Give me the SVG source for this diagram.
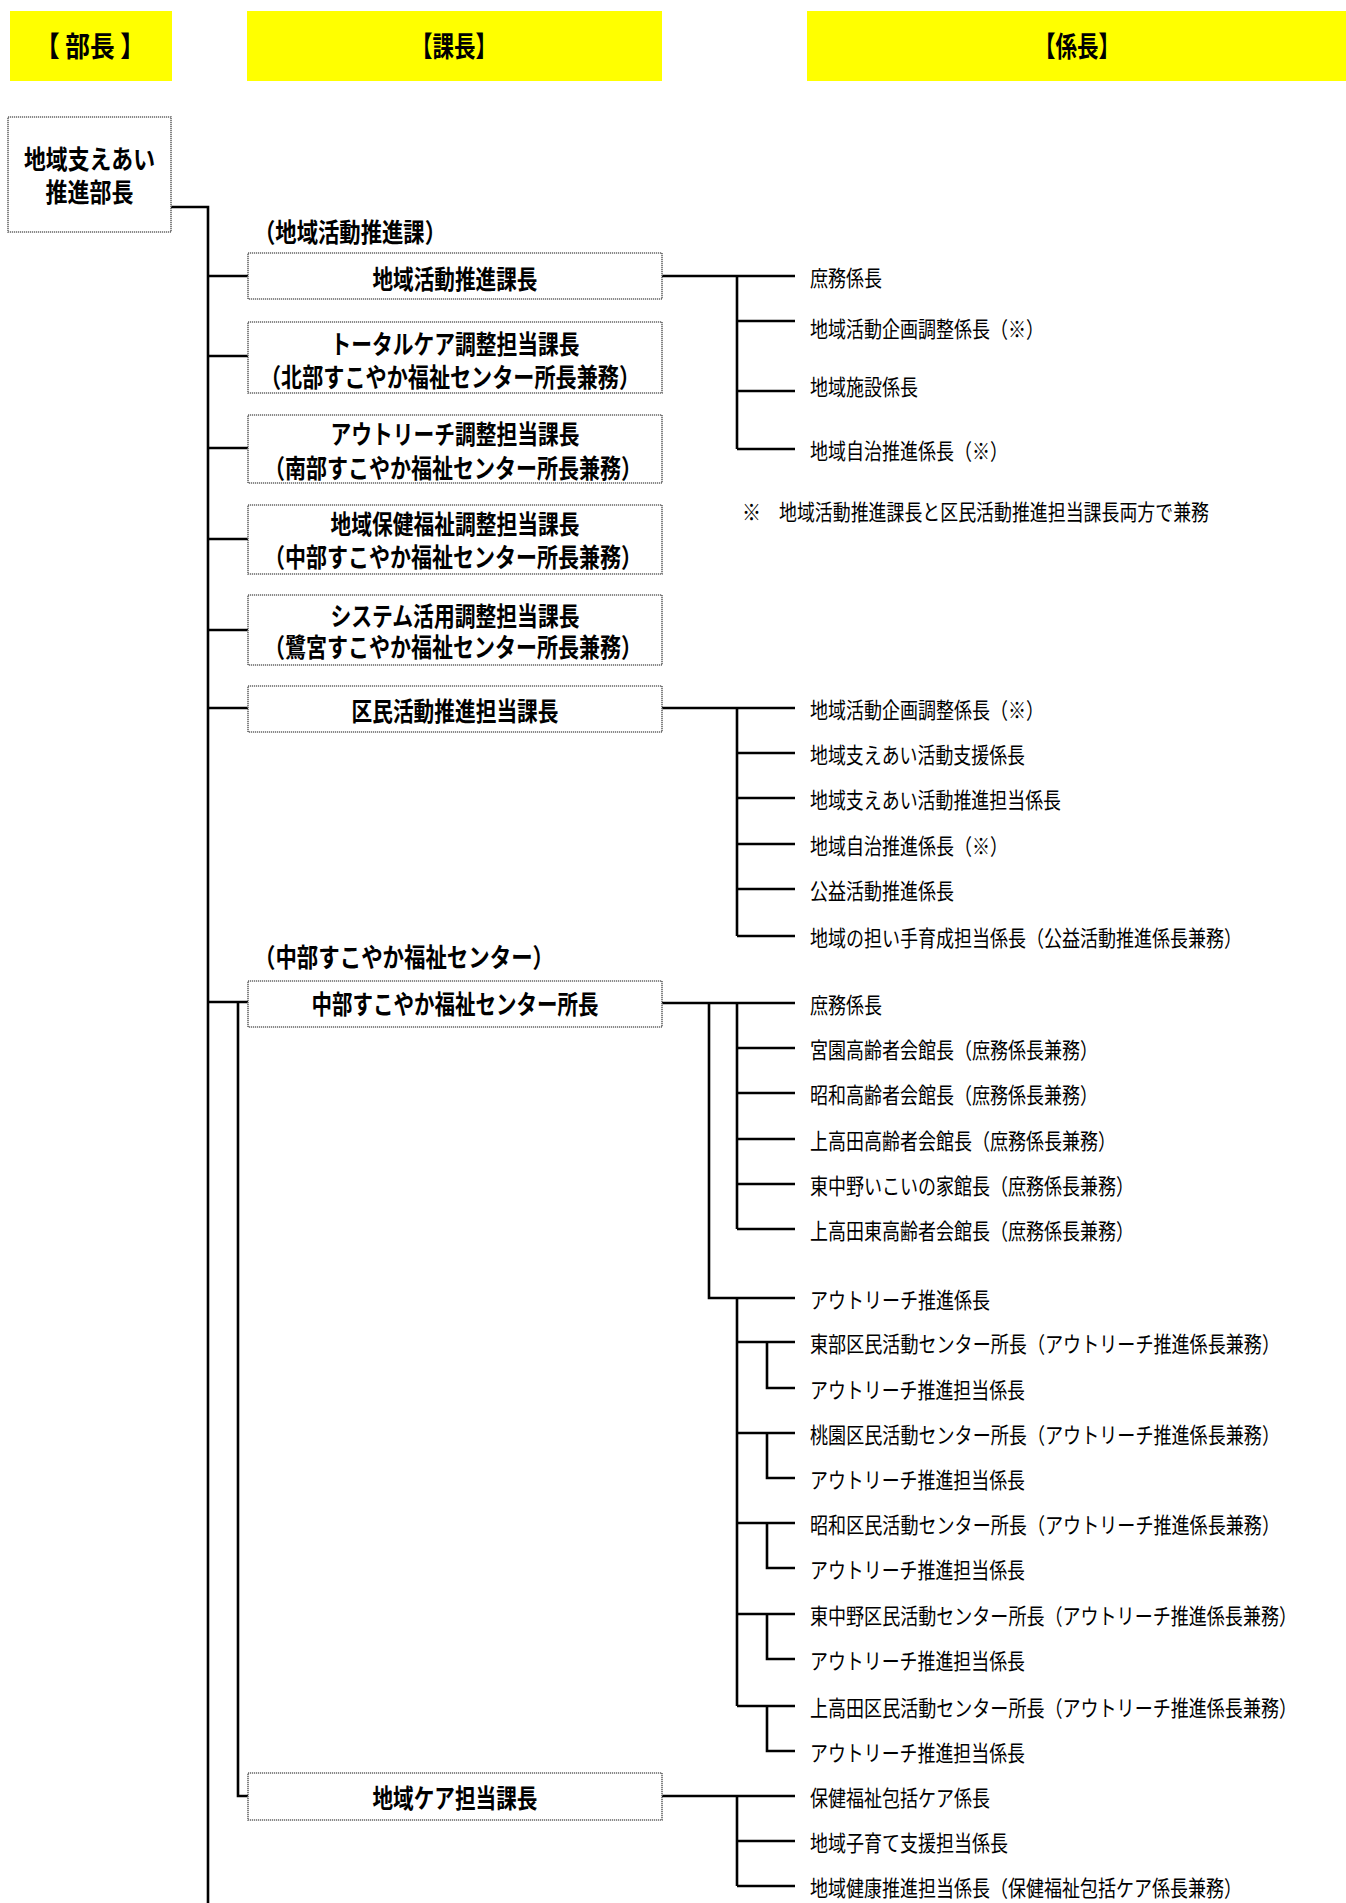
<svg xmlns="http://www.w3.org/2000/svg" width="1346" height="1903" viewBox="0 0 1346 1903">
<style>
.hdr{fill:#ffff00}
.box{fill:#fff;stroke:#666;stroke-width:1.6;stroke-dasharray:1.2 0.8}
.b{font-family:"Noto Sans CJK JP","Noto Sans CJK SC",sans-serif;font-weight:bold;font-size:26px;fill:#000}
.h{font-family:"Noto Sans CJK JP","Noto Sans CJK SC",sans-serif;font-weight:bold;font-size:28px;fill:#000}
.r{font-family:"Noto Sans CJK JP","Noto Sans CJK SC",sans-serif;font-size:22px;fill:#000}
.c{text-anchor:middle}
.ln{fill:none;stroke:#000;stroke-width:2.6}
</style>
<rect width="1346" height="1903" fill="#fff"/>
<g id="headers">
<rect class="hdr" x="10" y="11" width="162" height="70"/>
<rect class="hdr" x="247" y="11" width="415" height="70"/>
<rect class="hdr" x="807" y="11" width="539" height="70"/>
<text class="h c" x="90" y="57" textLength="110" lengthAdjust="spacingAndGlyphs">【 部長 】</text>
<text class="h c" x="454" y="57" textLength="86" lengthAdjust="spacingAndGlyphs">【課長】</text>
<text class="h c" x="1077" y="57" textLength="86" lengthAdjust="spacingAndGlyphs">【係長】</text>
</g>
<g id="connectors">
<path class="ln" d="M171 207H208V1903"/>
<path class="ln" d="M208 276H248M208 356H248M208 448H248M208 539H248M208 630H248M208 708H248M208 1002H248"/>
<path class="ln" d="M238 1002V1796H248"/>
<path class="ln" d="M662 276H795M737 276V449M737 321H795M737 391H795M737 449H795"/>
<path class="ln" d="M662 708H795M737 708V936M737 753H795M737 798H795M737 844H795M737 889H795M737 936H795"/>
<path class="ln" d="M662 1003H795M737 1003V1229M737 1048H795M737 1093H795M737 1139H795M737 1184H795M737 1229H795"/>
<path class="ln" d="M709 1003V1298H795M737 1298V1706"/>
<path class="ln" d="M737 1342H795M767 1342V1388H795M737 1433H795M767 1433V1478H795M737 1523H795M767 1523V1568H795M737 1614H795M767 1614V1659H795M737 1706H795M767 1706V1751H795"/>
<path class="ln" d="M662 1796H795M737 1796V1886M737 1841H795M737 1886H795"/>
</g>
<g id="bucho">
<rect class="box" x="8" y="117" width="163" height="115"/>
<text class="b c" x="89.5" y="169" textLength="131" lengthAdjust="spacingAndGlyphs">地域支えあい</text>
<text class="b c" x="89.5" y="202" textLength="88" lengthAdjust="spacingAndGlyphs">推進部長</text>
</g>
<g id="label-ka">
<text class="b" x="254" y="242" textLength="192" lengthAdjust="spacingAndGlyphs">（地域活動推進課）</text>
</g>
<g id="kacho1">
<rect class="box" x="248" y="253" width="414" height="46"/>
<text class="b c" x="455" y="288.5" textLength="165" lengthAdjust="spacingAndGlyphs">地域活動推進課長</text>
</g>
<g id="kacho2">
<rect class="box" x="248" y="322" width="414" height="71"/>
<text class="b c" x="455" y="353.5" textLength="249" lengthAdjust="spacingAndGlyphs">トータルケア調整担当課長</text>
<text class="b c" x="450" y="386.5" textLength="380" lengthAdjust="spacingAndGlyphs">（北部すこやか福祉センター所長兼務）</text>
</g>
<g id="kacho3">
<rect class="box" x="248" y="415" width="414" height="68"/>
<text class="b c" x="455" y="443.5" textLength="249" lengthAdjust="spacingAndGlyphs">アウトリーチ調整担当課長</text>
<text class="b c" x="453" y="477.5" textLength="378" lengthAdjust="spacingAndGlyphs">（南部すこやか福祉センター所長兼務）</text>
</g>
<g id="kacho4">
<rect class="box" x="248" y="505" width="414" height="69"/>
<text class="b c" x="455" y="533.5" textLength="249" lengthAdjust="spacingAndGlyphs">地域保健福祉調整担当課長</text>
<text class="b c" x="453" y="566.5" textLength="378" lengthAdjust="spacingAndGlyphs">（中部すこやか福祉センター所長兼務）</text>
</g>
<g id="kacho5">
<rect class="box" x="248" y="595" width="414" height="70"/>
<text class="b c" x="455" y="625.5" textLength="249" lengthAdjust="spacingAndGlyphs">システム活用調整担当課長</text>
<text class="b c" x="453" y="656.5" textLength="378" lengthAdjust="spacingAndGlyphs">（鷺宮すこやか福祉センター所長兼務）</text>
</g>
<g id="kacho6">
<rect class="box" x="248" y="686" width="414" height="46"/>
<text class="b c" x="455" y="720.5" textLength="207" lengthAdjust="spacingAndGlyphs">区民活動推進担当課長</text>
</g>
<g id="label-center">
<text class="b" x="254" y="967" textLength="300" lengthAdjust="spacingAndGlyphs">（中部すこやか福祉センター）</text>
</g>
<g id="shocho">
<rect class="box" x="248" y="981" width="414" height="46"/>
<text class="b c" x="455" y="1014" textLength="287" lengthAdjust="spacingAndGlyphs">中部すこやか福祉センター所長</text>
</g>
<g id="kacho-care">
<rect class="box" x="248" y="1773" width="414" height="47"/>
<text class="b c" x="455" y="1807.5" textLength="165" lengthAdjust="spacingAndGlyphs">地域ケア担当課長</text>
</g>
<g id="kakaricho-1">
<text class="r" x="810" y="286" textLength="72" lengthAdjust="spacingAndGlyphs">庶務係長</text>
<text class="r" x="810" y="337" textLength="234" lengthAdjust="spacingAndGlyphs">地域活動企画調整係長（※）</text>
<text class="r" x="810" y="395" textLength="108" lengthAdjust="spacingAndGlyphs">地域施設係長</text>
<text class="r" x="810" y="459" textLength="198" lengthAdjust="spacingAndGlyphs">地域自治推進係長（※）</text>
</g>
<g id="note">
<text class="r" x="742" y="520" textLength="19" lengthAdjust="spacingAndGlyphs">※</text>
<text class="r" x="779" y="520" textLength="430" lengthAdjust="spacingAndGlyphs">地域活動推進課長と区民活動推進担当課長両方で兼務</text>
</g>
<g id="kakaricho-2">
<text class="r" x="810" y="718" textLength="234" lengthAdjust="spacingAndGlyphs">地域活動企画調整係長（※）</text>
<text class="r" x="810" y="763" textLength="215" lengthAdjust="spacingAndGlyphs">地域支えあい活動支援係長</text>
<text class="r" x="810" y="808" textLength="251" lengthAdjust="spacingAndGlyphs">地域支えあい活動推進担当係長</text>
<text class="r" x="810" y="854" textLength="198" lengthAdjust="spacingAndGlyphs">地域自治推進係長（※）</text>
<text class="r" x="810" y="899" textLength="144" lengthAdjust="spacingAndGlyphs">公益活動推進係長</text>
<text class="r" x="810" y="946" textLength="432" lengthAdjust="spacingAndGlyphs">地域の担い手育成担当係長（公益活動推進係長兼務）</text>
</g>
<g id="kakaricho-3">
<text class="r" x="810" y="1013" textLength="72" lengthAdjust="spacingAndGlyphs">庶務係長</text>
<text class="r" x="810" y="1058" textLength="288" lengthAdjust="spacingAndGlyphs">宮園高齢者会館長（庶務係長兼務）</text>
<text class="r" x="810" y="1103" textLength="288" lengthAdjust="spacingAndGlyphs">昭和高齢者会館長（庶務係長兼務）</text>
<text class="r" x="810" y="1149" textLength="306" lengthAdjust="spacingAndGlyphs">上高田高齢者会館長（庶務係長兼務）</text>
<text class="r" x="810" y="1194" textLength="324" lengthAdjust="spacingAndGlyphs">東中野いこいの家館長（庶務係長兼務）</text>
<text class="r" x="810" y="1239" textLength="324" lengthAdjust="spacingAndGlyphs">上高田東高齢者会館長（庶務係長兼務）</text>
</g>
<g id="kakaricho-4">
<text class="r" x="810" y="1308" textLength="180" lengthAdjust="spacingAndGlyphs">アウトリーチ推進係長</text>
<text class="r" x="810" y="1352" textLength="470" lengthAdjust="spacingAndGlyphs">東部区民活動センター所長（アウトリーチ推進係長兼務）</text>
<text class="r" x="810" y="1398" textLength="215" lengthAdjust="spacingAndGlyphs">アウトリーチ推進担当係長</text>
<text class="r" x="810" y="1443" textLength="470" lengthAdjust="spacingAndGlyphs">桃園区民活動センター所長（アウトリーチ推進係長兼務）</text>
<text class="r" x="810" y="1488" textLength="215" lengthAdjust="spacingAndGlyphs">アウトリーチ推進担当係長</text>
<text class="r" x="810" y="1533" textLength="470" lengthAdjust="spacingAndGlyphs">昭和区民活動センター所長（アウトリーチ推進係長兼務）</text>
<text class="r" x="810" y="1578" textLength="215" lengthAdjust="spacingAndGlyphs">アウトリーチ推進担当係長</text>
<text class="r" x="810" y="1624" textLength="487" lengthAdjust="spacingAndGlyphs">東中野区民活動センター所長（アウトリーチ推進係長兼務）</text>
<text class="r" x="810" y="1669" textLength="215" lengthAdjust="spacingAndGlyphs">アウトリーチ推進担当係長</text>
<text class="r" x="810" y="1716" textLength="487" lengthAdjust="spacingAndGlyphs">上高田区民活動センター所長（アウトリーチ推進係長兼務）</text>
<text class="r" x="810" y="1761" textLength="215" lengthAdjust="spacingAndGlyphs">アウトリーチ推進担当係長</text>
</g>
<g id="kakaricho-5">
<text class="r" x="810" y="1806" textLength="180" lengthAdjust="spacingAndGlyphs">保健福祉包括ケア係長</text>
<text class="r" x="810" y="1851" textLength="198" lengthAdjust="spacingAndGlyphs">地域子育て支援担当係長</text>
<text class="r" x="810" y="1896" textLength="432" lengthAdjust="spacingAndGlyphs">地域健康推進担当係長（保健福祉包括ケア係長兼務）</text>
</g>
</svg>
